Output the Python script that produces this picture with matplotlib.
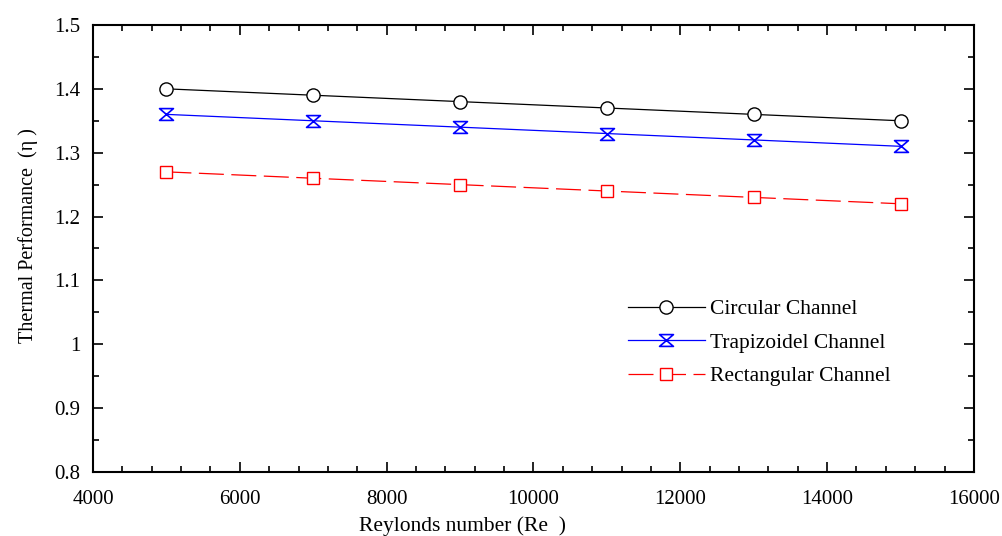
import matplotlib
matplotlib.use("Agg")
import matplotlib.pyplot as plt
from matplotlib.path import Path
from matplotlib.ticker import MultipleLocator

plt.rcParams['font.family'] = ['Liberation Serif', 'DejaVu Serif']

re_values = [5000, 7000, 9000, 11000, 13000, 15000]
circular = [1.40, 1.39, 1.38, 1.37, 1.36, 1.35]
trapizoidel = [1.36, 1.35, 1.34, 1.33, 1.32, 1.31]
rectangular = [1.27, 1.26, 1.25, 1.24, 1.23, 1.22]
series_labels = ['Circular Channel', 'Trapizoidel Channel', 'Rectangular Channel']
y_ticks = [0.8, 0.9, 1.0, 1.1, 1.2, 1.3, 1.4, 1.5]
y_ticklabels = ['0.8', '0.9', '1', '1.1', '1.2', '1.3', '1.4', '1.5']

hourglass = Path([(-1, 0.85), (1, 0.85), (-1, -0.85), (1, -0.85), (-1, 0.85)],
                 [Path.MOVETO, Path.LINETO, Path.LINETO, Path.LINETO, Path.CLOSEPOLY])

fig = plt.figure(figsize=(10.03, 5.36), dpi=100)
ax = fig.add_axes([0.0927, 0.1194, 0.8783, 0.834])

ax.plot(re_values, circular, color='black', lw=0.9, marker='o', ms=9.5,
        mfc='white', mec='black', mew=1.0, label=series_labels[0])
ax.plot(re_values, trapizoidel, color='blue', lw=0.9, marker=hourglass, ms=10,
        mfc='none', mec='blue', mew=1.2, label=series_labels[1])
ax.plot(re_values, rectangular, color='red', lw=0.9, ls=(0, (20, 6)), marker='s', ms=8.5,
        mfc='white', mec='red', mew=1.0, label=series_labels[2])

ax.set_xlim(4000, 16000)
ax.set_ylim(0.8, 1.5)
ax.xaxis.set_major_locator(MultipleLocator(2000))
ax.xaxis.set_minor_locator(MultipleLocator(400))
ax.yaxis.set_minor_locator(MultipleLocator(0.05))
ax.set_yticks(y_ticks)
ax.set_yticklabels(y_ticklabels)

ax.tick_params(which='both', direction='in', top=True, right=True, labelsize=15, width=1.2)
ax.tick_params(which='major', length=7)
ax.tick_params(axis='x', which='major', pad=13)
ax.tick_params(axis='y', which='major', pad=9)
ax.tick_params(which='minor', length=4)
for s in ax.spines.values():
    s.set_linewidth(1.5)

ax.set_xlabel('Reylonds number (Re  )', fontsize=15.5)
ax.xaxis.set_label_coords(0.42, -0.1)
ax.set_ylabel('Thermal Performance  (η )', fontsize=14.5)
ax.yaxis.set_label_coords(-0.062, 0.53)

leg = ax.legend(loc='upper left', bbox_to_anchor=(0.585, 0.43), frameon=False,
                fontsize=15.5, handlelength=3.6, handletextpad=0.2, labelspacing=0.62)

fig.savefig('out.png', dpi=100)
